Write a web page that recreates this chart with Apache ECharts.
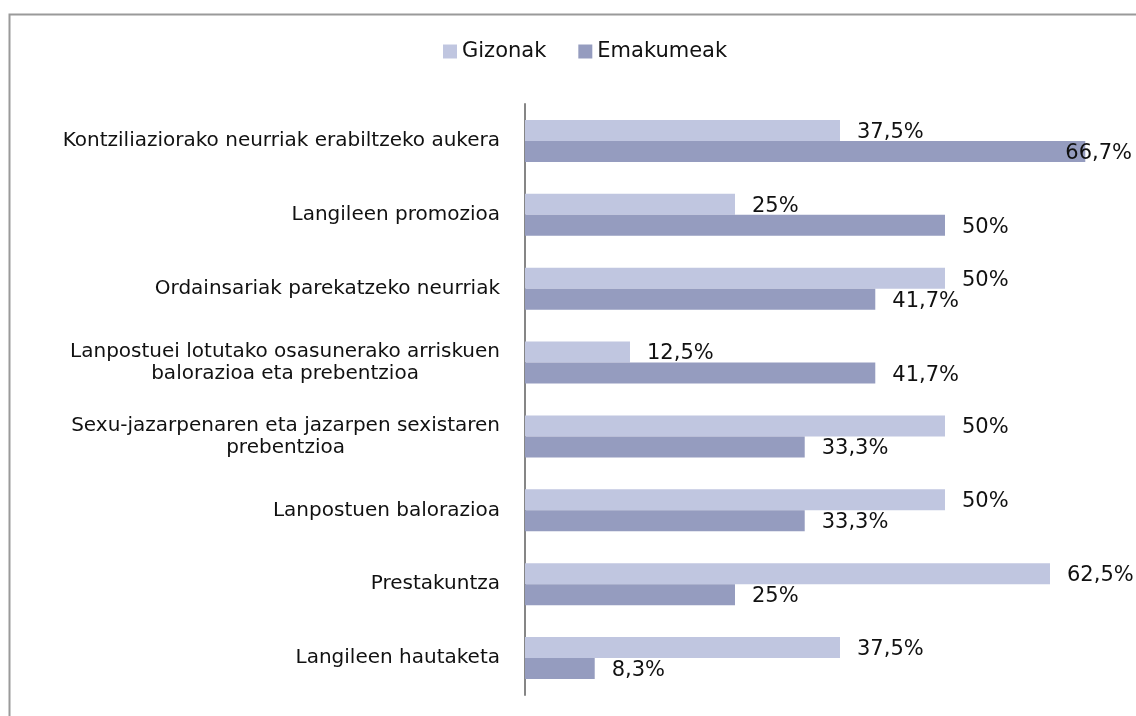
<!DOCTYPE html>
<html>
<head>
<meta charset="utf-8">
<script src="https://cdn.jsdelivr.net/npm/echarts@6/dist/echarts.min.js"></script>
<style>html,body{margin:0;padding:0;background:#fff}#c{width:1136px;height:716px}</style>
</head>
<body>
<div id="c"></div>
<script>
var categories = [
  "Kontziliaziorako neurriak erabiltzeko aukera",
  "Langileen promozioa",
  "Ordainsariak parekatzeko neurriak",
  "Lanpostuei lotutako osasunerako arriskuen\nbalorazioa eta prebentzioa",
  "Sexu-jazarpenaren eta jazarpen sexistaren\nprebentzioa",
  "Lanpostuen balorazioa",
  "Prestakuntza",
  "Langileen hautaketa"
];
var gizonak = [37.5, 25, 50, 12.5, 50, 50, 62.5, 37.5];
var emakumeak = [66.7, 50, 41.7, 41.7, 33.3, 33.3, 25, 8.3];

var FONT = "DejaVu Sans";
function fmt(p){ return String(p.value).replace('.', ',') + '%'; }
var chart = echarts.init(document.getElementById('c'));
var labelBase = {show:true, position:'right', distance:17, offset:[0,2], color:'#111', fontSize:21, fontFamily:FONT, formatter:fmt};
function items(arr){
  return arr.map(function(v){
    if (v > 65) return {value:v, label:{distance:-20}};
    return v;
  });
}
chart.setOption({
  animation:false,
  textStyle:{fontFamily:FONT},
  graphic:[{type:'rect', shape:{x:9.5, y:14.5, width:1200, height:800}, style:{fill:'none', stroke:'#9a9a9a', lineWidth:2}}],
  legend:{
    top:36, left:438, itemWidth:14, itemHeight:14, itemGap:32,
    textStyle:{fontSize:21, fontFamily:FONT, color:'#111'},
    icon:'rect',
    data:['Gizonak','Emakumeak']
  },
  grid:{left:525, right:23, top:104, bottom:21, containLabel:false},
  xAxis:{type:'value', min:0, max:70, show:false, splitLine:{show:false}},
  yAxis:{
    type:'category', inverse:true, data:categories,
    axisLine:{show:true, lineStyle:{color:'#868686', width:2}},
    axisTick:{show:false},
    axisLabel:{
      margin:25, fontSize:20, fontFamily:FONT, color:'#111',
      formatter:function(v){ return v.split('\n').map(function(s){return '{c|'+s+'}';}).join('\n'); },
      rich:{c:{align:'center', fontSize:20, fontFamily:FONT, color:'#111', lineHeight:22}}
    }
  },
  series:[
    {name:'Gizonak', type:'bar', data:items(gizonak), barGap:'0%', barCategoryGap:'43%',
     itemStyle:{color:'#c0c6e0'}, label:labelBase},
    {name:'Emakumeak', type:'bar', data:items(emakumeak), barGap:'0%', barCategoryGap:'43%',
     itemStyle:{color:'#959cbf'}, label:labelBase}
  ]
});
</script>
</body>
</html>
